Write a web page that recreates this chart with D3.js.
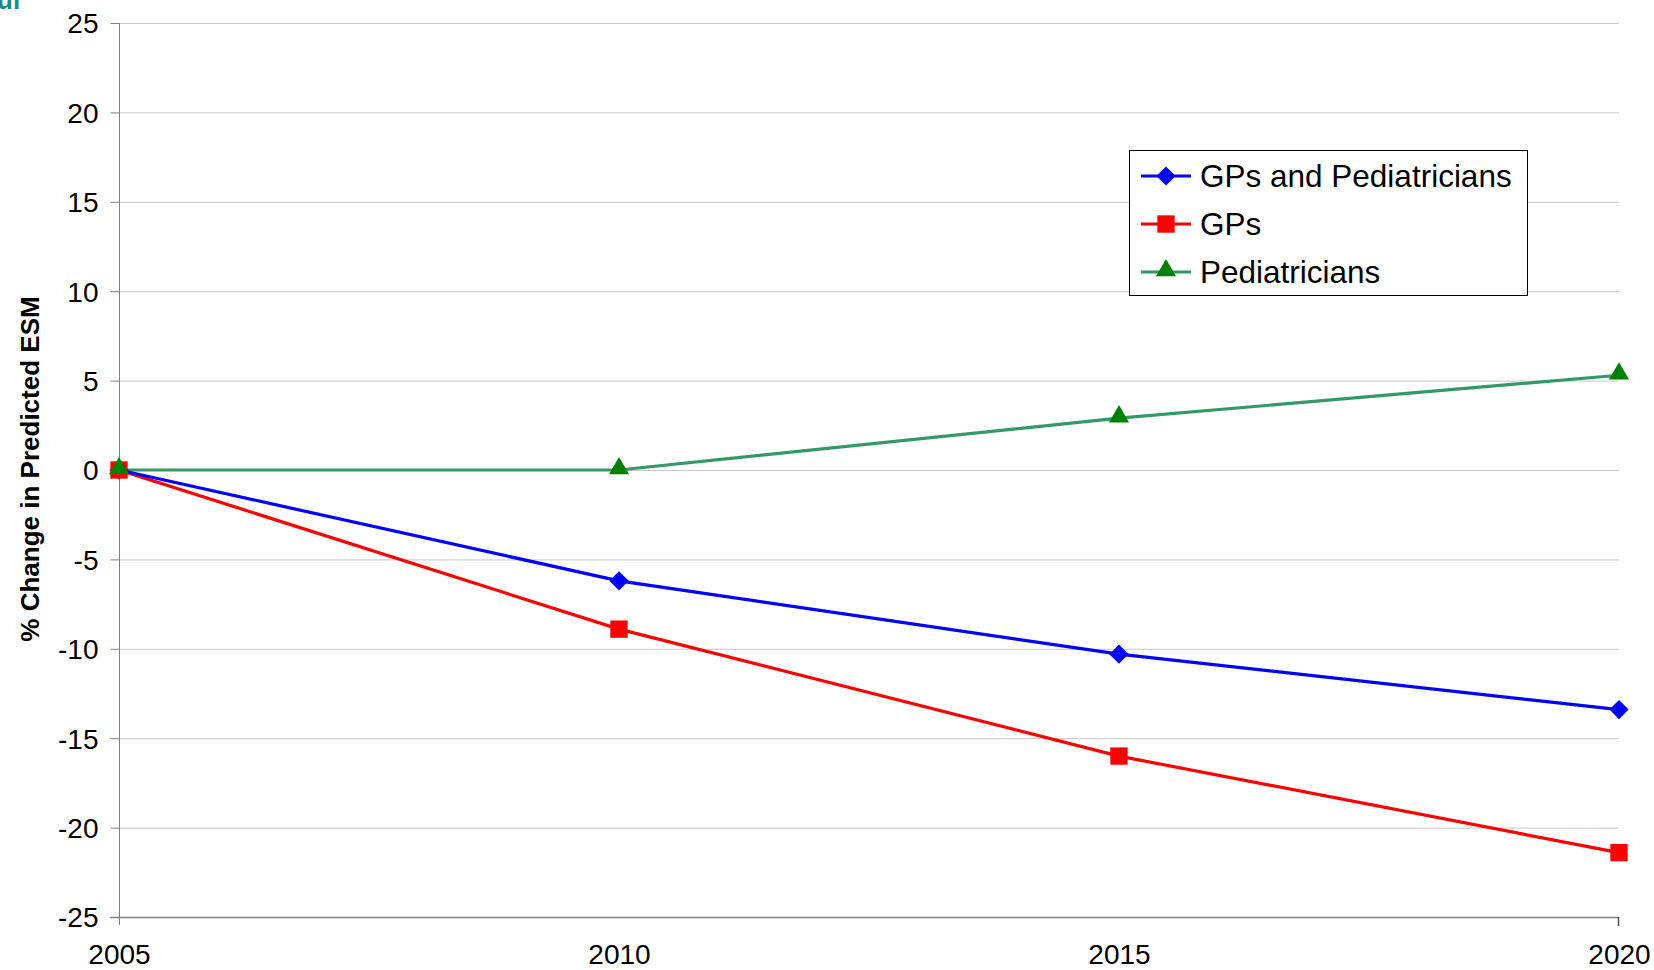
<!DOCTYPE html>
<html>
<head>
<meta charset="utf-8">
<script src="https://cdn.jsdelivr.net/npm/d3@7"></script>
<style>
  html, body { margin: 0; padding: 0; background: #fff; }
  svg { display: block; font-family: "Liberation Sans", Arial, sans-serif; }
</style>
</head>
<body>
<svg id="chart" width="1654" height="970"></svg>
<script>
const years = [2005, 2010, 2015, 2020];
const gpsAndPeds = [0, -6.2, -10.3, -13.4];
const gps = [0, -8.9, -16.0, -21.4];
const peds = [0, 0, 2.9, 5.3];
const yTicks = [25, 20, 15, 10, 5, 0, -5, -10, -15, -20, -25];
const seriesNames = ["GPs and Pediatricians", "GPs", "Pediatricians"];
const yTitle = "% Change in Predicted ESM";

(function () {
const series = [
  { name: seriesNames[0], values: gpsAndPeds, line: "#0000ff", marker: "#0000ff", shape: d3.symbolSquare, size: 185, rot: 45, dy: 0 },
  { name: seriesNames[1], values: gps, line: "#ff0000", marker: "#ff0000", shape: d3.symbolSquare, size: 300, rot: 0, dy: 0 },
  { name: seriesNames[2], values: peds, line: "#339966", marker: "#008000", shape: d3.symbolTriangle, size: 175, rot: 0, dy: -1.5 }
];

const svg = d3.select("#chart");
const pLeft = 119, pRight = 1619, pTop = 23, pBottom = 917;

const x = d3.scalePoint().domain(years).range([pLeft, pRight]);
const y = d3.scaleLinear().domain([-25, 25]).range([pBottom, pTop]);

// clipped teal text at top-left
svg.append("text").attr("x", -3).attr("y", 9)
  .attr("font-size", 26).attr("font-weight", "bold").attr("fill", "#1b8a8f")
  .text("ul");

// gridlines
svg.append("g").selectAll("line").data(yTicks.filter(t => t !== -25)).join("line")
  .attr("x1", pLeft).attr("x2", pRight)
  .attr("y1", d => y(d) + 0.5).attr("y2", d => y(d) + 0.5)
  .attr("stroke", "#c8c8c8").attr("stroke-width", 1);

// y axis
const yAxis = svg.append("g").attr("transform", `translate(${pLeft + 0.5},0)`)
  .call(d3.axisLeft(y).tickValues(yTicks).tickSize(9).tickPadding(12).tickFormat(d => String(d)));
yAxis.select(".domain").attr("stroke", "#808080").attr("d", `M0,${pTop}V${pBottom + 8}`);
yAxis.selectAll(".tick line").attr("stroke", "#808080");
yAxis.selectAll(".tick text").attr("font-size", 28).attr("fill", "#000")
  .attr("font-family", "'Liberation Sans', Arial, sans-serif").attr("dy", "0.35em");

// x axis
const xAxis = svg.append("g").attr("transform", `translate(0,${pBottom + 0.5})`)
  .call(d3.axisBottom(x).tickSize(0).tickPadding(27).tickFormat(d => String(d)));
xAxis.select(".domain").attr("stroke", "#808080").attr("stroke-width", 1.5).attr("d", `M${pLeft - 9},0H${pRight}`);
xAxis.selectAll(".tick text").attr("font-size", 28).attr("fill", "#000")
  .attr("font-family", "'Liberation Sans', Arial, sans-serif").attr("dy", "0.71em");
svg.append("line").attr("x1", pRight - 0.5).attr("x2", pRight - 0.5).attr("y1", pBottom).attr("y2", pBottom + 9)
  .attr("stroke", "#505050").attr("stroke-width", 1.5);

// y title
svg.append("text")
  .attr("transform", `translate(39,${(pTop + pBottom) / 2 - 1}) rotate(-90)`)
  .attr("text-anchor", "middle")
  .attr("font-size", 26).attr("font-weight", "bold").attr("fill", "#000")
  .text(yTitle);

// lines
const line = d3.line().x((d, i) => x(years[i])).y(d => y(d));
const drawOrder = [series[2], series[1], series[0]];
drawOrder.forEach(s => {
  svg.append("path").datum(s.values)
    .attr("d", line).attr("fill", "none")
    .attr("stroke", s.line).attr("stroke-width", 3.2);
});
series.forEach(s => {
  svg.append("g").selectAll("path").data(s.values).join("path")
    .attr("transform", (d, i) => `translate(${x(years[i])},${y(d) + s.dy}) rotate(${s.rot})`)
    .attr("d", d3.symbol().type(s.shape).size(s.size))
    .attr("fill", s.marker);
});

// legend
const lg = svg.append("g");
lg.append("rect").attr("x", 1129.5).attr("y", 150.5).attr("width", 398).attr("height", 145)
  .attr("fill", "#fff").attr("stroke", "#000").attr("stroke-width", 1);
series.forEach((s, i) => {
  const cy = 176 + i * 48;
  lg.append("line").attr("x1", 1141).attr("x2", 1191).attr("y1", cy).attr("y2", cy)
    .attr("stroke", s.line).attr("stroke-width", 3.2);
  lg.append("path").attr("transform", `translate(1166,${cy + s.dy}) rotate(${s.rot})`)
    .attr("d", d3.symbol().type(s.shape).size(s.size)).attr("fill", s.marker);
  lg.append("text").attr("x", 1200).attr("y", cy).attr("dy", "0.36em")
    .attr("font-size", 31.5).attr("fill", "#000").text(s.name);
});
})();
</script>
</body>
</html>
